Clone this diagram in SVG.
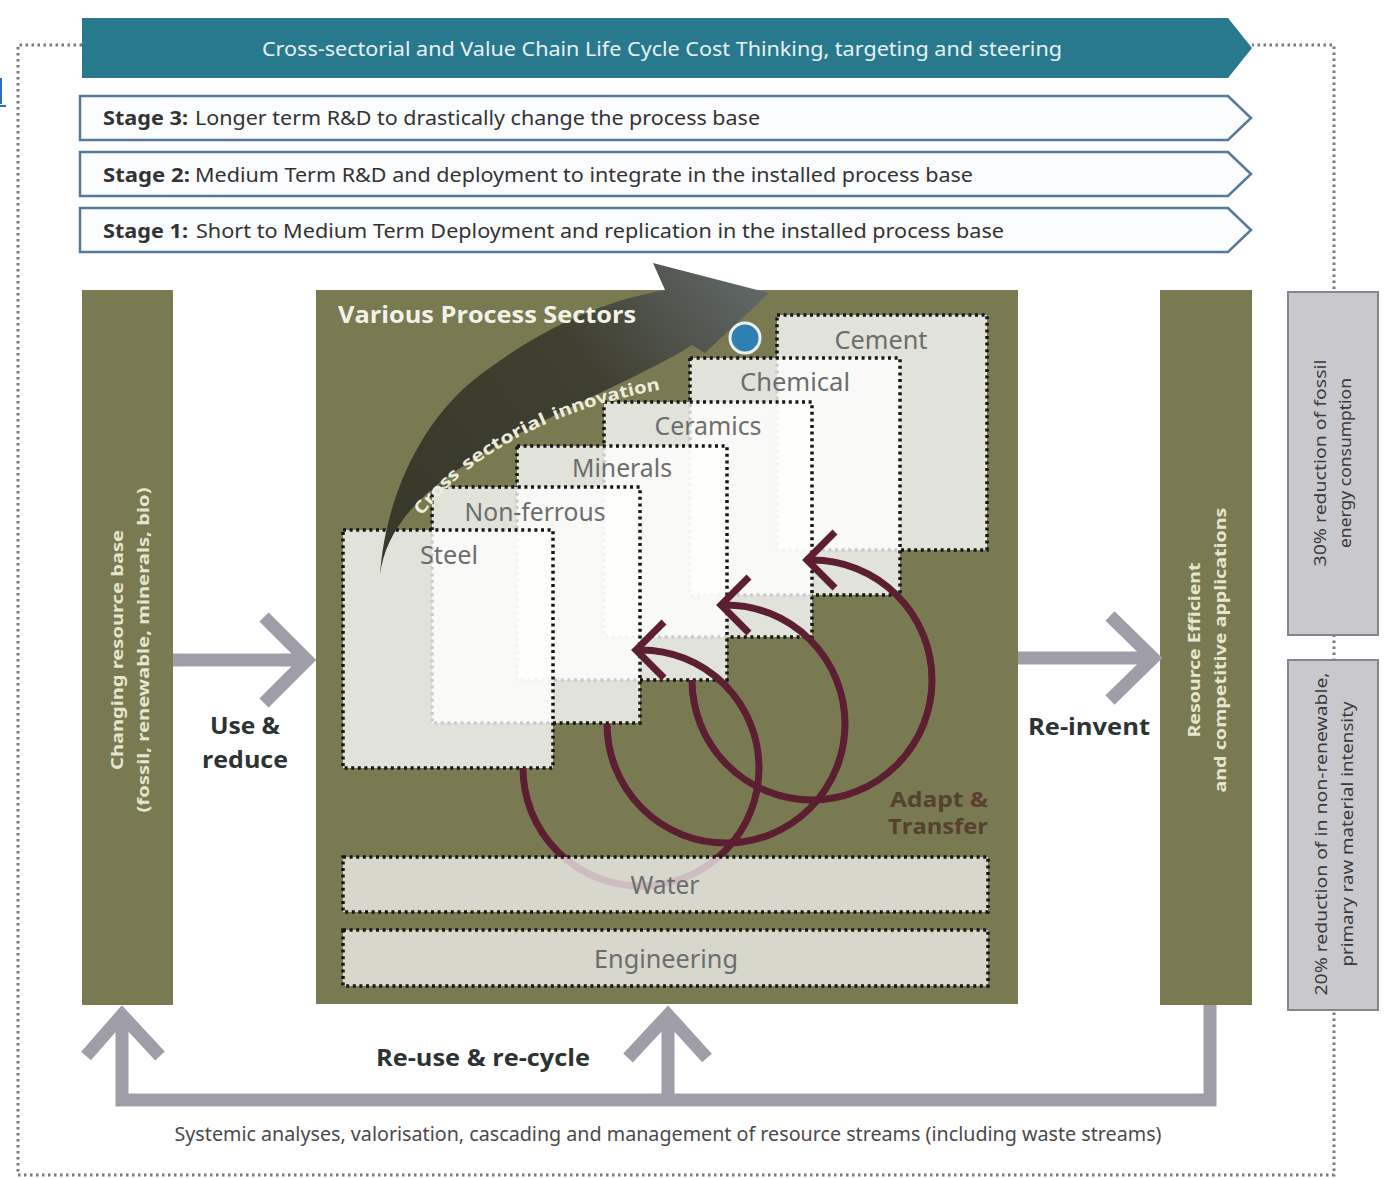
<svg xmlns="http://www.w3.org/2000/svg" width="1384" height="1179" viewBox="0 0 1384 1179">
<defs>
<style>
.olive{fill:#797a52}
.sector{fill:#ffffff;fill-opacity:0.78;stroke:#161616;stroke-width:3.5;stroke-dasharray:3 3.6}
.band{fill:#ffffff;fill-opacity:0.7;stroke:#161616;stroke-width:3.5;stroke-dasharray:3 3.6}
.slabel{font-family:"Noto Sans","Open Sans",sans-serif;font-size:25px;fill:#6d6d6d;text-anchor:middle}
.arc{fill:none;stroke:#5c1f31;stroke-width:7}
.gray{fill:none;stroke:#9e9da8;stroke-width:13}
.dotb{fill:none;stroke:#7a7a7a;stroke-width:3;stroke-dasharray:2.5 3.5}
.stage{fill:#fbfcfd;stroke:#56789a;stroke-width:2.5}
.stxt{font-family:"Noto Sans","Open Sans",sans-serif;font-size:20px;fill:#333333}
.bold{font-weight:bold}
.vtxt{font-family:"Noto Sans","Open Sans",sans-serif;font-size:16px;font-weight:bold;fill:#e6e5cf;text-anchor:middle}
.gtxt{font-family:"Noto Sans","Open Sans",sans-serif;font-size:16px;fill:#3a3a3a;text-anchor:middle}
.lbl{font-family:"Open Sans","Noto Sans",sans-serif;font-size:24px;font-weight:bold;fill:#2b3333;text-anchor:middle}
.innov{font-family:"Open Sans","Noto Sans",sans-serif;font-size:17px;font-weight:bold;fill:#eeeddd}
.adapt{font-family:"Open Sans","Noto Sans",sans-serif;font-size:21px;font-weight:bold;fill:#56402f;text-anchor:end}
</style>
<linearGradient id="arrowGrad" x1="380" y1="575" x2="770" y2="280" gradientUnits="userSpaceOnUse">
<stop offset="0" stop-color="#38382a"/>
<stop offset="0.6" stop-color="#404031"/>
<stop offset="1" stop-color="#626a6a"/>
</linearGradient>
<path id="innovPath" d="M422,516 C460,465 540,410 670,388" fill="none"/>
</defs>
<rect width="1384" height="1179" fill="#ffffff"/>
<path d="M1,78 V104 M0,106 H6" stroke="#2a6fc0" stroke-width="2" fill="none"/>

<g id="outer-border">
<path class="dotb" d="M82,45 H18 V1175 H1334 V45 H1252"/>
</g>

<g id="banner">
<path d="M82,18 H1228 L1252,48 L1228,78 H82 Z" fill="#28798d"/>
<text x="662" y="56" font-family="Noto Sans, Open Sans, sans-serif" font-size="20" fill="#e8f1f3" text-anchor="middle" textLength="800" lengthAdjust="spacingAndGlyphs">Cross-sectorial and Value Chain Life Cycle Cost Thinking, targeting and steering</text>
</g>

<g id="stage3">
<path class="stage" d="M80,96 H1228 L1251,118 L1228,140 H80 Z"/>
<text class="stxt bold" x="103" y="125" textLength="85" lengthAdjust="spacingAndGlyphs">Stage 3:</text>
<text class="stxt" x="195" y="125" textLength="565" lengthAdjust="spacingAndGlyphs">Longer term R&amp;D to drastically change the process base</text>
</g>
<g id="stage2">
<path class="stage" d="M80,152 H1228 L1251,174 L1228,196 H80 Z"/>
<text class="stxt bold" x="103" y="182" textLength="87" lengthAdjust="spacingAndGlyphs">Stage 2:</text>
<text class="stxt" x="195" y="182" textLength="778" lengthAdjust="spacingAndGlyphs">Medium Term R&amp;D and deployment to integrate in the installed process base</text>
</g>
<g id="stage1">
<path class="stage" d="M80,208 H1228 L1251,230 L1228,252 H80 Z"/>
<text class="stxt bold" x="103" y="238" textLength="85" lengthAdjust="spacingAndGlyphs">Stage 1:</text>
<text class="stxt" x="196" y="238" textLength="808" lengthAdjust="spacingAndGlyphs">Short to Medium Term Deployment and replication in the installed process base</text>
</g>

<g id="resource-base">
<rect class="olive" x="82" y="290" width="91" height="715"/>
<g transform="translate(123,650) rotate(-90)">
<text class="vtxt" x="0" y="0" textLength="240" lengthAdjust="spacingAndGlyphs">Changing resource base</text>
<text class="vtxt" x="0" y="26" textLength="325" lengthAdjust="spacingAndGlyphs">(fossil, renewable, minerals, bio)</text>
</g>
</g>

<g id="resource-efficient">
<rect class="olive" x="1160" y="290" width="92" height="715"/>
<g transform="translate(1200,650) rotate(-90)">
<text class="vtxt" x="0" y="0" textLength="175" lengthAdjust="spacingAndGlyphs">Resource Efficient</text>
<text class="vtxt" x="0" y="26" textLength="285" lengthAdjust="spacingAndGlyphs">and competitive applications</text>
</g>
</g>

<g id="target-energy">
<rect x="1288" y="292" width="90" height="343" fill="#c9c9cd" stroke="#85858a" stroke-width="2"/>
<g transform="translate(1326,463) rotate(-90)">
<text class="gtxt" x="0" y="0" textLength="207" lengthAdjust="spacingAndGlyphs">30% reduction of fossil</text>
<text class="gtxt" x="0" y="25" textLength="170" lengthAdjust="spacingAndGlyphs">energy consumption</text>
</g>
</g>

<g id="target-material">
<rect x="1288" y="660" width="90" height="350" fill="#c9c9cd" stroke="#85858a" stroke-width="2"/>
<g transform="translate(1327,834) rotate(-90)">
<text class="gtxt" x="0" y="0" textLength="323" lengthAdjust="spacingAndGlyphs">20% reduction of in non-renewable,</text>
<text class="gtxt" x="0" y="26" textLength="265" lengthAdjust="spacingAndGlyphs">primary raw material intensity</text>
</g>
</g>

<g id="process-sectors">
<rect class="olive" x="316" y="290" width="702" height="714"/>
</g>

<g id="cement">
<rect class="sector" x="777" y="315" width="210" height="235"/>
<text class="slabel" x="881" y="349" textLength="93" lengthAdjust="spacingAndGlyphs">Cement</text>
</g>
<g id="chemical">
<rect class="sector" x="690" y="358" width="210" height="237"/>
<text class="slabel" x="795" y="391" textLength="110" lengthAdjust="spacingAndGlyphs">Chemical</text>
</g>
<g id="ceramics">
<rect class="sector" x="604" y="402" width="208" height="235"/>
<text class="slabel" x="708" y="435" textLength="107" lengthAdjust="spacingAndGlyphs">Ceramics</text>
</g>
<g id="minerals">
<rect class="sector" x="517" y="446" width="210" height="234"/>
<text class="slabel" x="622" y="477" textLength="100" lengthAdjust="spacingAndGlyphs">Minerals</text>
</g>
<g id="non-ferrous">
<rect class="sector" x="432" y="487" width="208" height="236"/>
<text class="slabel" x="535" y="521" textLength="141" lengthAdjust="spacingAndGlyphs">Non-ferrous</text>
</g>
<g id="steel">
<rect class="sector" x="343" y="530" width="210" height="238"/>
<text class="slabel" x="449" y="564" textLength="58" lengthAdjust="spacingAndGlyphs">Steel</text>
</g>

<g id="connectors">
<path class="gray" d="M173,660 H306"/>
<path class="gray" d="M264,617 L307,660 L264,703"/>
<path class="gray" d="M1018,658 H1152"/>
<path class="gray" d="M1110,616 L1153,658 L1110,700"/>
<path class="gray" d="M1210,1005 V1100 H122 V1016"/>
<path class="gray" d="M86,1056 L122,1015 L160,1056"/>
<path class="gray" d="M668,1100 V1016"/>
<path class="gray" d="M628,1058 L668,1015 L707,1058"/>
<g id="adapt-cycles">
<path class="arc" d="M523,768 A118 118 0 1 0 641,650"/>
<path class="arc" d="M664,622 L636,650 L664,678"/>
<path class="arc" d="M607,724 A119 119 0 1 0 726,605"/>
<path class="arc" d="M749,577 L721,605 L749,633"/>
<path class="arc" d="M692,680 A120 120 0 1 0 812,560"/>
<path class="arc" d="M835,532 L807,560 L835,588"/>
</g>
</g>

<g id="water">
<rect class="band" x="343" y="857" width="645" height="55"/>
<text class="slabel" x="665" y="894" textLength="69" lengthAdjust="spacingAndGlyphs">Water</text>
</g>
<g id="engineering">
<rect class="band" x="343" y="930" width="645" height="56"/>
<text class="slabel" x="666" y="968" textLength="144" lengthAdjust="spacingAndGlyphs">Engineering</text>
</g>

<g id="innovation-arrow">
<path d="M380,575 C385,500 420,420 480,375 C550,322 610,300 665,290 L653,263 L769,293 L705,353 L692,345 C640,380 480,440 420,500 C395,525 383,550 380,575 Z" fill="url(#arrowGrad)"/>
<text class="innov"><textPath href="#innovPath" startOffset="0" textLength="56" lengthAdjust="spacingAndGlyphs">Cross</textPath></text>
<text class="innov"><textPath href="#innovPath" startOffset="64" textLength="94" lengthAdjust="spacingAndGlyphs">sectorial</textPath></text>
<text class="innov"><textPath href="#innovPath" startOffset="166" textLength="110" lengthAdjust="spacingAndGlyphs">innovation</textPath></text>
<circle cx="745" cy="338" r="15" fill="#2d80b0" stroke="#e9f0f0" stroke-width="3"/>
</g>

<g id="labels">
<text x="338" y="323" font-family="Open Sans, Noto Sans, sans-serif" font-size="23" font-weight="bold" fill="#f2f2e8" textLength="298" lengthAdjust="spacingAndGlyphs">Various Process Sectors</text>
<text class="adapt" x="988" y="807" textLength="98" lengthAdjust="spacingAndGlyphs">Adapt &amp;</text>
<text class="adapt" x="988" y="834" textLength="100" lengthAdjust="spacingAndGlyphs">Transfer</text>
<text class="lbl" x="245" y="734" textLength="70" lengthAdjust="spacingAndGlyphs">Use &amp;</text>
<text class="lbl" x="245" y="768" textLength="86" lengthAdjust="spacingAndGlyphs">reduce</text>
<text class="lbl" x="1089" y="735" textLength="122" lengthAdjust="spacingAndGlyphs">Re-invent</text>
<text class="lbl" x="483" y="1066" textLength="214" lengthAdjust="spacingAndGlyphs">Re-use &amp; re-cycle</text>
<text x="668" y="1141" font-family="Noto Sans, Open Sans, sans-serif" font-size="19" fill="#4a4a4a" text-anchor="middle" textLength="987" lengthAdjust="spacingAndGlyphs">Systemic analyses, valorisation, cascading and management of resource streams (including waste streams)</text>
</g>
</svg>
